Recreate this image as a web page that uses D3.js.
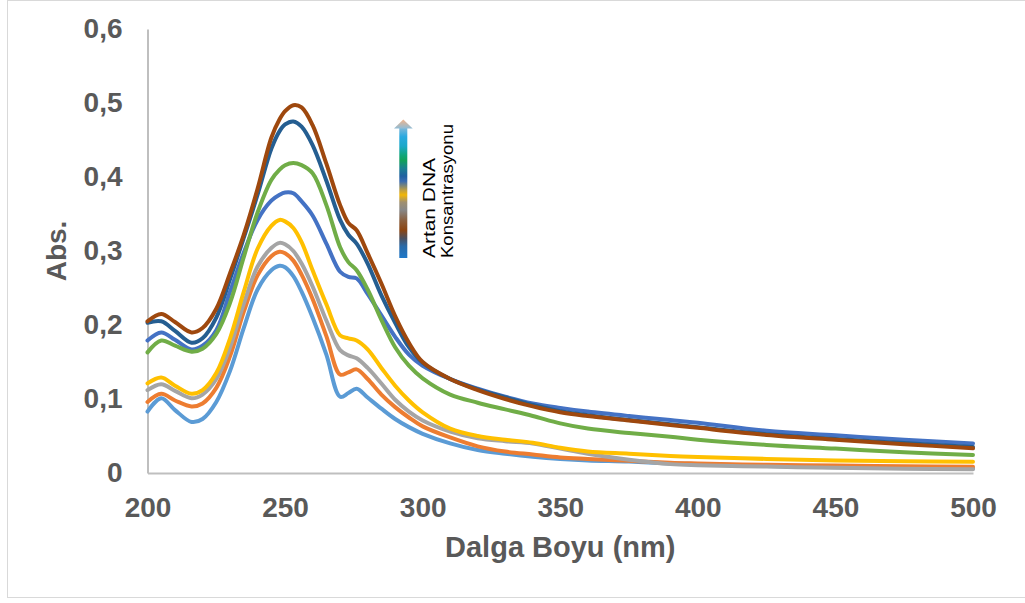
<!DOCTYPE html>
<html>
<head>
<meta charset="utf-8">
<script src="https://cdn.jsdelivr.net/npm/d3@7"></script>
<style>
  html, body { margin: 0; padding: 0; background: #fff; }
  svg { display: block; }
  text { font-family: "Liberation Sans", Arial, sans-serif; }
</style>
</head>
<body>
<svg id="chart" width="1025" height="603"></svg>
<script>
// Wavelengths (nm) shared by every spectrum
const wavelength = [200,205,210,216,220,225,230,235,240,245,248,250,253,256,260,265,270,273,276,280,285,290,295,300,310,320,330,340,350,360,375,390,400,425,450,475,500];

// Absorbance spectra, one array per titration step
const abs1 = [.083,.101,.085,.069,.073,.096,.138,.196,.248,.274,.280,.278,.266,.245,.210,.160,.103,.108,.114,.102,.087,.073,.062,.053,.040,.031,.026,.022,.019,.017,.0155,.013,.012,.0095,.0078,.0068,.006];
const abs2 = [.096,.107,.098,.090,.094,.115,.158,.218,.267,.293,.299,.297,.287,.268,.235,.185,.133,.136,.140,.127,.106,.089,.075,.063,.048,.036,.029,.025,.021,.019,.0165,.014,.013,.011,.010,.009,.0086];
const abs3 = [.112,.120,.111,.101,.106,.127,.170,.229,.279,.304,.311,.309,.300,.283,.252,.206,.166,.159,.155,.142,.121,.099,.083,.071,.056,.047,.043,.040,.033,.026,.018,.012,.0105,.0087,.007,.0058,.005];
const abs4 = [.121,.129,.118,.107,.112,.135,.182,.245,.303,.334,.342,.340,.331,.312,.274,.228,.186,.182,.179,.167,.142,.118,.098,.082,.060,.050,.045,.041,.034,.029,.026,.023,.0215,.019,.017,.016,.0153];
const abs5 = [.179,.190,.180,.167,.172,.193,.245,.298,.342,.368,.376,.379,.378,.367,.348,.310,.272,.265,.263,.242,.213,.184,.160,.145,.127,.114,.103,.094,.088,.083,.077,.0716,.068,.057,.051,.045,.040];
const abs6 = [.163,.179,.172,.164,.168,.188,.230,.292,.352,.396,.410,.416,.419,.416,.405,.362,.305,.285,.274,.248,.207,.170,.145,.128,.106,.095,.086,.077,.067,.060,.054,.049,.045,.038,.033,.028,.0243];
const abs7 = [.203,.205,.192,.176,.182,.210,.262,.318,.376,.438,.462,.471,.475,.468,.443,.395,.342,.322,.310,.283,.240,.203,.170,.149,.127,.113,.102,.092,.0835,.078,.0715,.066,.062,.0525,.046,.0405,.035];
const abs8 = [.205,.215,.204,.190,.196,.222,.270,.322,.384,.453,.478,.489,.497,.494,.470,.418,.362,.338,.328,.297,.256,.212,.176,.150,.127,.112,.100,.090,.082,.077,.071,.065,.061,.0515,.045,.039,.0333];

const seriesColors = ["#5B9BD5","#ED7D31","#A5A5A5","#FFC000","#4472C4","#70AD47","#255E91","#9E480E"];
const series = [abs1, abs2, abs3, abs4, abs5, abs6, abs7, abs8];

const xTicks = [200, 250, 300, 350, 400, 450, 500];
const yTicks = [0, 0.1, 0.2, 0.3, 0.4, 0.5, 0.6];
const yTickLabels = ["0", "0,1", "0,2", "0,3", "0,4", "0,5", "0,6"];

const xTitle = "Dalga Boyu (nm)";
const yTitle = "Abs.";
const arrowLabel1 = "Artan DNA";
const arrowLabel2 = "Konsantrasyonu";

const svg = d3.select("#chart");

// outer chart frame
svg.append("rect")
  .attr("x", 7.5).attr("y", 0.5)
  .attr("width", 1030).attr("height", 597)
  .attr("fill", "#fff").attr("stroke", "#d9d9d9").attr("stroke-width", 1);

const plot = { left: 147.5, right: 973, top: 29, bottom: 473 };

const x = d3.scaleLinear().domain([200, 500]).range([plot.left, plot.right]);
const y = d3.scaleLinear().domain([0, 0.6]).range([plot.bottom, plot.top]);

// axes (no tick marks, light grey axis lines)
const xAxis = svg.append("g")
  .attr("transform", `translate(0,${plot.bottom})`)
  .call(d3.axisBottom(x).tickValues(xTicks).tickSize(0).tickPadding(24).tickFormat(d3.format("d")));
const yAxis = svg.append("g")
  .attr("transform", `translate(${plot.left},0)`)
  .call(d3.axisLeft(y).tickValues(yTicks).tickSize(0).tickPadding(25)
    .tickFormat((d, i) => yTickLabels[i]));

[xAxis, yAxis].forEach(g => {
  g.select(".domain").attr("stroke", "#bfbfbf").attr("stroke-width", 2);
  g.selectAll("text")
    .attr("fill", "#595959")
    .style("font-family", "'Liberation Sans', Arial, sans-serif")
    .style("font-size", "28px")
    .style("font-weight", "bold");
});
xAxis.selectAll("text").attr("dy", "0.71em");

// spectra
const line = d3.line()
  .x((d, i) => x(wavelength[i]))
  .y(d => y(d))
  .curve(d3.curveCatmullRom.alpha(0.5));

svg.append("g").selectAll("path")
  .data(series)
  .join("path")
  .attr("d", d => line(d))
  .attr("fill", "none")
  .attr("stroke", (d, i) => seriesColors[i])
  .attr("stroke-width", 4)
  .attr("stroke-linejoin", "round")
  .attr("stroke-linecap", "round");

// axis titles
svg.append("text")
  .attr("x", (plot.left + plot.right) / 2).attr("y", 557)
  .attr("text-anchor", "middle")
  .attr("fill", "#595959")
  .style("font-size", "29px").style("font-weight", "bold")
  .text(xTitle);

svg.append("text")
  .attr("transform", `translate(66,${(plot.top + plot.bottom) / 2}) rotate(-90)`)
  .attr("text-anchor", "middle")
  .attr("fill", "#595959")
  .style("font-size", "28px").style("font-weight", "bold")
  .text(yTitle);

// gradient arrow indicating rising DNA concentration
const defs = svg.append("defs");
const grad = defs.append("linearGradient")
  .attr("id", "dnaGrad").attr("x1", 0).attr("y1", 1).attr("x2", 0).attr("y2", 0);
const stops = [
  [0.00, "#1f78c8"], [0.09, "#2a6aa8"], [0.15, "#4a5060"], [0.215, "#8b4513"],
  [0.29, "#8a6040"], [0.37, "#888888"], [0.43, "#a09070"], [0.485, "#f2b705"],
  [0.52, "#c0a040"], [0.59, "#3a6cb0"], [0.63, "#2060a0"], [0.69, "#1a8090"],
  [0.75, "#12a05a"], [0.79, "#10a57a"], [0.86, "#1ba8c8"], [0.933, "#29a9e0"],
  [1.00, "#7fb8d8"]
];
stops.forEach(s => grad.append("stop").attr("offset", s[0]).attr("stop-color", s[1]));

const headGrad = defs.append("linearGradient")
  .attr("id", "headGrad").attr("x1", 0).attr("y1", 1).attr("x2", 0).attr("y2", 0);
headGrad.append("stop").attr("offset", 0).attr("stop-color", "#8fbcd6");
headGrad.append("stop").attr("offset", 1).attr("stop-color", "#f2b48a");

svg.append("rect")
  .attr("x", 399.3).attr("y", 128).attr("width", 8).attr("height", 130)
  .attr("fill", "url(#dnaGrad)");
svg.append("path")
  .attr("d", "M394,128.5 L403.3,119.5 L412.7,128.5 Z")
  .attr("fill", "url(#headGrad)");

svg.append("text")
  .attr("transform", "translate(434.5,258) rotate(-90)")
  .attr("fill", "#000")
  .attr("textLength", 100).attr("lengthAdjust", "spacingAndGlyphs")
  .style("font-size", "16px")
  .text(arrowLabel1);
svg.append("text")
  .attr("transform", "translate(452.5,258) rotate(-90)")
  .attr("fill", "#000")
  .attr("textLength", 134).attr("lengthAdjust", "spacingAndGlyphs")
  .style("font-size", "16px")
  .text(arrowLabel2);
</script>
</body>
</html>
